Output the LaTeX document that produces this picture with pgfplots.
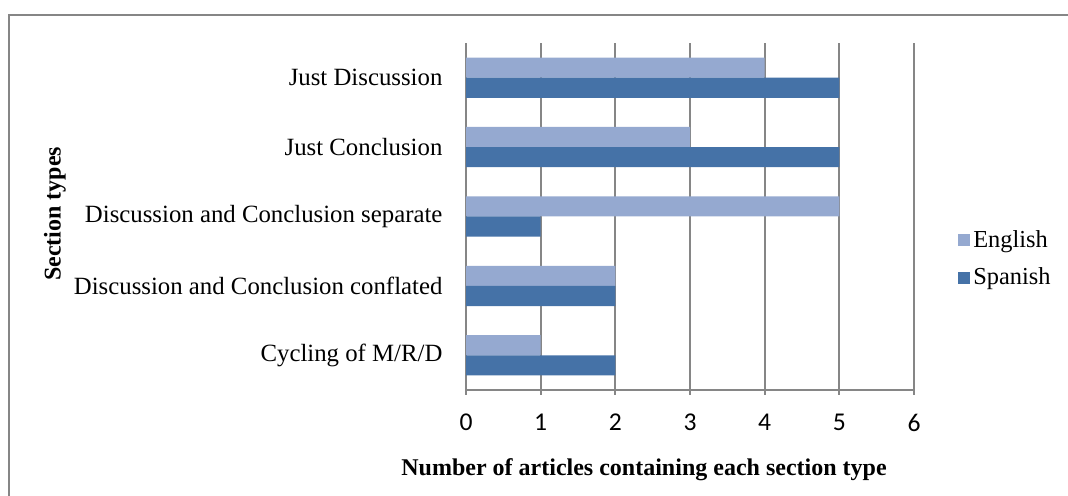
\documentclass[border=0pt]{standalone}
\usepackage{fontspec}
\setmainfont{Liberation Serif}
\newfontfamily\calibri{Carlito}
\usepackage{pgfplots}
\pgfplotsset{compat=1.18}
\definecolor{engl}{RGB}{149,169,208}
\definecolor{span}{RGB}{69,114,167}
\definecolor{gridg}{RGB}{134,134,134}
\begin{document}
\begin{tikzpicture}
\path[use as bounding box] (0,0) rectangle (534pt,248pt);
\draw[gridg,line width=1pt] (4.25pt,0) -- (4.25pt,240.25pt) -- (534pt,240.25pt);
\begin{axis}[
  at={(233pt,53pt)}, anchor=south west,
  scale only axis, width=224pt, height=173.5pt,
  xbar, bar width=0.29,
  xmin=0, xmax=6, ymin=-0.5, ymax=4.5,
  xtick={0,1,2,3,4,5,6},
  ytick={0,1,2,3,4},
  yticklabels={Cycling of M/R/D,Discussion and Conclusion conflated,Discussion and Conclusion separate,Just Conclusion,Just Discussion},
  axis x line=bottom, axis y line=left,
  axis line style={gridg,line width=1pt,-},
  xmajorgrids, grid style={gridg,line width=1pt},
  xtick align=outside, major tick length=2.5pt,
  x tick style={gridg,line width=1pt},
  y tick style={draw=none},
  /pgf/number format/assume math mode=true,
  xticklabel style={font=\calibri\fontsize{12.8}{14}\selectfont, yshift=-6pt},
  yticklabel style={font=\rmfamily\fontsize{12.4}{14}\selectfont, xshift=-7pt},
  legend style={at={(1.098,0.3775)}, anchor=west, draw=none, fill=none,
    font=\rmfamily\fontsize{12.2}{14}\selectfont, row sep=6pt, inner sep=0pt,
    nodes={inner sep=1.5pt}},
  legend cell align=left,
  legend image code/.code={\fill[#1] (0pt,-3pt) rectangle (6pt,3pt);},
]
\addplot[fill=engl, draw=none, bar shift=0.145] coordinates {(1,0) (2,1) (5,2) (3,3) (4,4)};
\addplot[fill=span, draw=none, bar shift=-0.145] coordinates {(2,0) (2,1) (1,2) (5,3) (5,4)};
\legend{\rmfamily English,\rmfamily Spanish}
\end{axis}
\node[font=\bfseries\fontsize{12}{14}\selectfont] at (322pt,13pt) {Number of articles containing each section type};
\node[font=\bfseries\fontsize{12}{14}\selectfont, rotate=90] at (27.5pt,141pt) {Section types};
\end{tikzpicture}
\end{document}
